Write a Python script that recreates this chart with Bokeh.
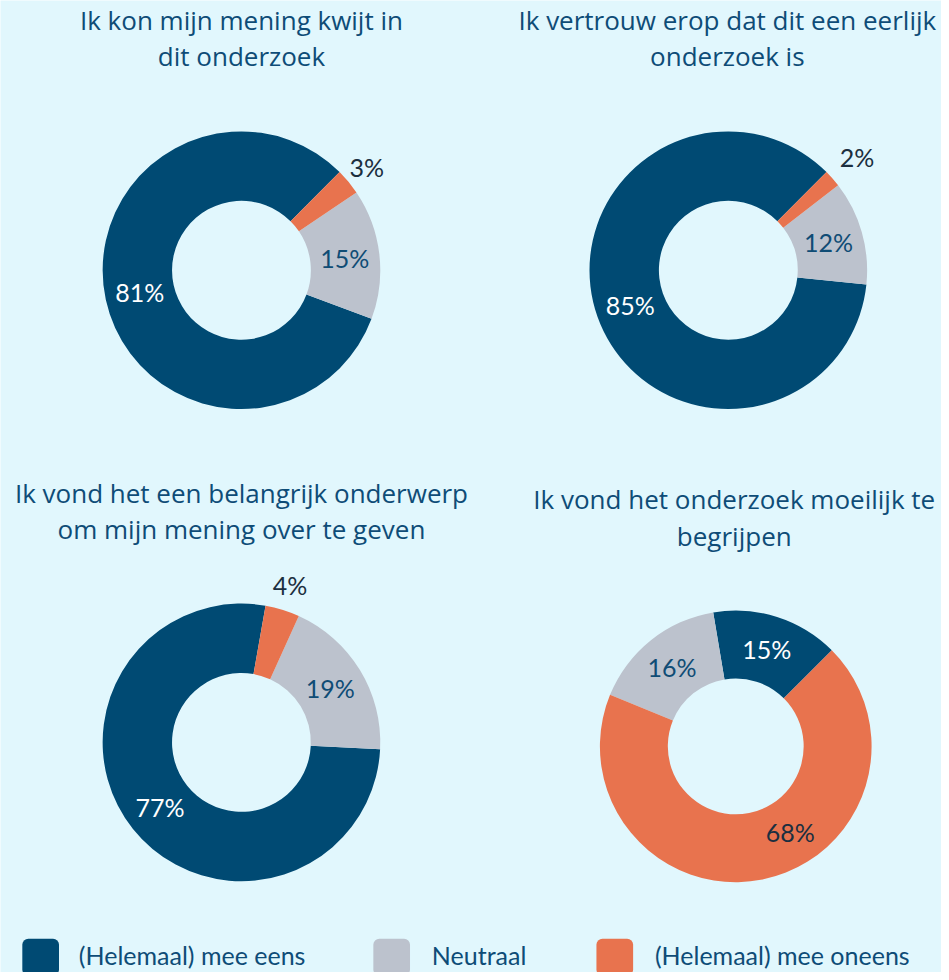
import numpy as np
from bokeh.plotting import figure
from bokeh.models import Range1d, ColumnDataSource
from bokeh.core.properties import value
from bokeh.embed import file_html
from bokeh.resources import INLINE

# ---------------- data ----------------
categories = ["(Helemaal) mee eens", "Neutraal", "(Helemaal) mee oneens"]
titles = [
    "Ik kon mijn mening kwijt in\ndit onderzoek",
    "Ik vertrouw erop dat dit een eerlijk\nonderzoek is",
    "Ik vond het een belangrijk onderwerp\nom mijn mening over te geven",
    "Ik vond het onderzoek moeilijk te\nbegrijpen",
]
mee_eens = [81, 85, 77, 15]
neutraal = [15, 12, 19, 16]
mee_oneens = [3, 2, 4, 68]

# ---------------- style / layout ----------------
BG = "#e1f7fd"
COLORS = ["#004a73", "#bcc2cd", "#e8734e"]
TITLE_COLOR = "#0e4c77"
DARK_TXT = "#1b2f40"
GREY_TXT = "#0f4c75"
FONT = "Lato"
TITLE_FONT = "Open Sans"
FS = "25px"
TITLE_FS = "26px"

centers = [(243, 272), (734, 272), (243, 748), (741.5, 752)]
r_out = [140, 140, 140, 137]
r_in = [70, 70, 70, 68.5]
start_deg = [45, 45, 80, 45]
title_pos = [(243, 20, 56), (733, 20, 56), (243, 497, 533), (740, 503, 540)]
outside_dist = [164, 173, 166, 166]
label_shift = [[0, 0, 0], [0, 0, 0], [0, 0, 0], [0, 0, 21]]

W, H = 941, 972          # figure size in screen pixels
RW, RH = 949, 980        # layout coordinate space
p = figure(width=W, height=H, output_backend="svg", toolbar_location=None,
           x_range=Range1d(0, RW), y_range=Range1d(-RH, 0),
           min_border=0, background_fill_color=BG, border_fill_color=BG)
p.axis.visible = False
p.grid.visible = False
p.outline_line_color = None

wx, wy, wri, wro, wsa, wea, wc = [], [], [], [], [], [], []
lx, ly, lt, lc = [], [], [], []
for i in range(4):
    vals = [mee_eens[i], neutraal[i], mee_oneens[i]]
    tot = float(sum(vals))
    cx, cy = centers[i]
    a = np.deg2rad(start_deg[i])
    for j, v in enumerate(vals):
        span = 2 * np.pi * v / tot
        wx.append(cx); wy.append(-cy); wri.append(r_in[i]); wro.append(r_out[i])
        wsa.append(a); wea.append(a + span); wc.append(COLORS[j])
        mid = a + span / 2 + np.deg2rad(label_shift[i][j])
        if v < 5:
            d = outside_dist[i]
            col = DARK_TXT
        else:
            d = (r_in[i] + r_out[i]) / 2
            col = ["white", GREY_TXT, DARK_TXT][j]
        lx.append(cx + d * np.cos(mid)); ly.append(-cy + d * np.sin(mid))
        lt.append(f"{v}%"); lc.append(col)
        a += span

p.annular_wedge(x="x", y="y", inner_radius="ri", outer_radius="ro",
                start_angle="sa", end_angle="ea", fill_color="c", line_color=None,
                direction="anticlock",
                source=ColumnDataSource(dict(x=wx, y=wy, ri=wri, ro=wro, sa=wsa, ea=wea, c=wc)))

p.text(x="x", y="y", text="t", text_color="c", source=ColumnDataSource(dict(x=lx, y=ly, t=lt, c=lc)),
       text_font=value(FONT), text_font_size=FS, text_align="center", text_baseline="middle")

tx, ty, tt = [], [], []
for i, t in enumerate(titles):
    lines = t.split("\n")
    x0, y1, y2 = title_pos[i]
    for line, yy in zip(lines, [y1, y2]):
        tx.append(x0); ty.append(-yy); tt.append(line)
p.text(x="x", y="y", text="t", source=ColumnDataSource(dict(x=tx, y=ty, t=tt)),
       text_color=TITLE_COLOR, text_font=value(TITLE_FONT), text_font_size=TITLE_FS,
       text_align="center", text_baseline="middle")

# legend
sq_left = [22, 376, 601]
sq_size = 37
sq_top = 946
txt_x = [79, 435, 660]
p.quad(left=sq_left, right=[s + sq_size for s in sq_left], top=[-sq_top] * 3,
       bottom=[-(sq_top + sq_size)] * 3, fill_color=COLORS, line_color=None, border_radius=6)
p.text(x=txt_x, y=[-962] * 3, text=categories, text_color=TITLE_COLOR,
       text_font=value(FONT), text_font_size=FS, text_align="left", text_baseline="middle")

open("out.html", "w").write(file_html(p, INLINE))
